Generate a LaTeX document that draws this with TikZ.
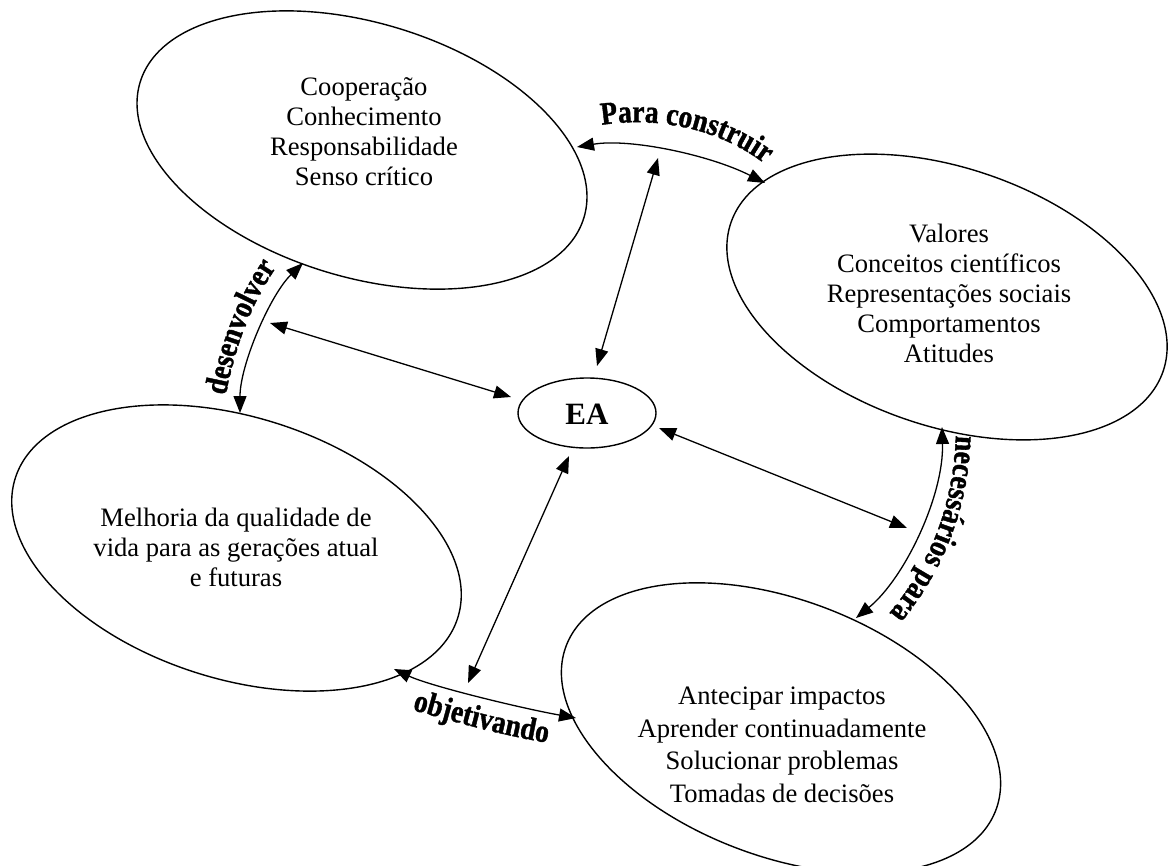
\documentclass[tikz,border=0pt]{standalone}
\usepackage{fontspec}
\setmainfont{Liberation Serif}
\newfontfamily\lblfam{Liberation Serif}[FakeStretch=0.86,FakeBold=1.2]
\usetikzlibrary{shapes.geometric,arrows.meta,decorations.text}
\newcommand\lblfont{\lblfam\fontsize{32}{32}\selectfont\bfseries}
\begin{document}
\begin{tikzpicture}[x=1pt,y=-1pt,
  bubble/.style={draw,ellipse,line width=1.4pt,inner sep=0pt},
  txt/.style={align=center,inner sep=0pt,font=\fontsize{26.6}{30}\selectfont},
  conn/.style={line width=1.3pt,{Triangle[length=17pt,width=13pt]}-{Triangle[length=17pt,width=13pt]}},
  lbl/.style={decorate,decoration={text along path,text align=center,text={|\lblfont|#1}}}]
\useasboundingbox (0,0) rectangle (1169,865);
% ellipses
\node[bubble,rotate=-17,minimum width=464pt,minimum height=254pt] (e1) at (362,150) {};
\node[bubble,rotate=-19,minimum width=457pt,minimum height=258pt] (e2) at (947,297) {};
\node[bubble,rotate=-17.5,minimum width=464pt,minimum height=262pt] (e3) at (236.5,548) {};
\node[bubble,rotate=-21,minimum width=460pt,minimum height=256pt] (e4) at (781,728) {};
\node[bubble,minimum width=138pt,minimum height=70pt] (ea) at (587,413) {};
% texts
\node[txt] (t1) at (364,132) {Cooperação\\Conhecimento\\Responsabilidade\\Senso crítico};
\node[txt] (t2) at (949,293) {Valores\\Conceitos científicos\\Representações sociais\\Comportamentos\\Atitudes};
\node[txt] (t3) at (236,547) {Melhoria da qualidade de\\vida para as gerações atual\\e futuras};
\node[txt,font=\fontsize{26.6}{32.5}\selectfont] (t4) at (782,745) {Antecipar impactos\\Aprender continuadamente\\Solucionar problemas\\Tomadas de decisões};
\node[inner sep=0pt,font=\fontsize{31}{31}\selectfont\bfseries] (eat) at (587,414) {EA};
% connector end points
\coordinate (pc1) at (577,147);
\coordinate (pc2) at (765,183);
\coordinate (dv1) at (303,263);
\coordinate (dv2) at (240,413);
\coordinate (ob1) at (394,669);
\coordinate (ob2) at (576,718);
\coordinate (np1) at (942,427);
\coordinate (np2) at (856,618);
\coordinate (eaL) at (511,397);
\coordinate (lft) at (270,323);
\coordinate (eaT) at (597,366);
\coordinate (top) at (658,158);
\coordinate (eaR) at (659,428);
\coordinate (rgt) at (907,528);
\coordinate (eaB) at (569,456);
\coordinate (bot) at (468,683);
% connectors
\draw[conn] (pc1) .. controls (630,138) and (710,155) .. (pc2);
\draw[conn] (dv1) .. controls (270,295) and (240,365) .. (dv2);
\draw[conn] (ob1) .. controls (430,686) and (520,708) .. (ob2);
\draw[conn] (np1) .. controls (944,495) and (905,578) .. (np2);
\draw[conn] (eaL) -- (lft);
\draw[conn] (eaT) -- (top);
\draw[conn] (eaR) -- (rgt);
\draw[conn] (eaB) -- (bot);
% labels along paths
\path[lbl={Para construir}] (586,128) .. controls (645,114) and (722,124) .. (777,174);
\path[lbl={desenvolver}] (223,410) .. controls (233,350) and (251,300) .. (285,255);
\path[lbl={necessários para}] (956,420) .. controls (957,495) and (934,565) .. (879,625);
\path[lbl={objetivando}] (398,706) .. controls (450,720) and (500,736) .. (562,745);
\end{tikzpicture}
\end{document}
